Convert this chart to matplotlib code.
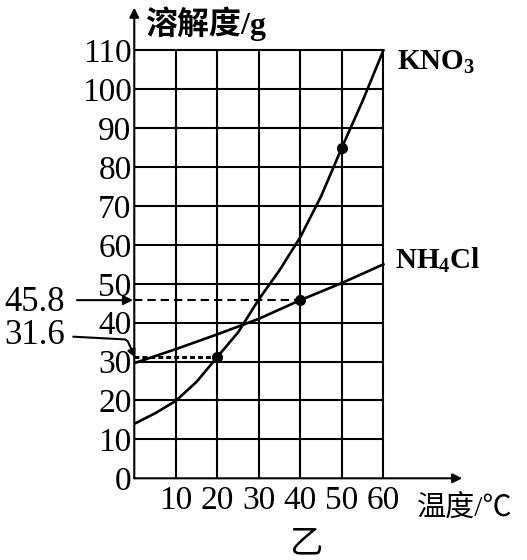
import matplotlib
matplotlib.use("Agg")
import matplotlib.pyplot as plt

plt.rcParams["font.family"] = ["Liberation Serif", "Noto Sans CJK SC", "DejaVu Sans"]
plt.rcParams["mathtext.fontset"] = "custom"
plt.rcParams["mathtext.rm"] = "Liberation Serif:bold"
plt.rcParams["mathtext.bf"] = "Liberation Serif:bold"

# solubility curves
kno3_temp = [0, 5, 10, 15, 20, 25, 30, 35, 40, 45, 50, 55, 60]
kno3_sol = [14.0, 16.7, 19.9, 24.8, 31.2, 37.5, 46.0, 53.5, 62.0, 72.5, 85.0, 97.0, 110.0]
nh4cl_temp = [0, 10, 20, 30, 40, 50, 60]
nh4cl_sol = [29.6, 33.2, 37.0, 41.0, 45.8, 50.2, 55.0]

# marked points
dot_temp = [20, 40, 50]
dot_sol = [31.2, 45.8, 85.0]

x_ticks = [10, 20, 30, 40, 50, 60]
y_ticks = [0, 10, 20, 30, 40, 50, 60, 70, 80, 90, 100, 110]

CJK = ["Liberation Serif", "Noto Sans CJK SC", "DejaVu Sans"]

fig = plt.figure(figsize=(5.27, 5.6), dpi=100)
ax = fig.add_axes([0.2548, 0.1459, 0.6223, 0.8405])
ax.set_xlim(0, 79)
ax.set_ylim(0, 121)
for s in ax.spines.values():
    s.set_visible(False)

# grid
ax.vlines(x_ticks, 0, 110, color="black", lw=1.5)
ax.hlines(y_ticks[1:], 0, 60, color="black", lw=1.5)

# axes with arrows
ax.annotate("", xy=(0, 121), xytext=(0, 0),
            arrowprops=dict(arrowstyle="-|>", lw=1.5, color="black",
                            mutation_scale=14, shrinkA=0, shrinkB=0))
ax.annotate("", xy=(79, 0), xytext=(0, 0),
            arrowprops=dict(arrowstyle="-|>", lw=1.5, color="black",
                            mutation_scale=14, shrinkA=0, shrinkB=0))

ax.plot(kno3_temp, kno3_sol, color="black", lw=1.9)
ax.plot(nh4cl_temp, nh4cl_sol, color="black", lw=1.9)

# guide lines
ax.plot([0, dot_temp[1]], [dot_sol[1], dot_sol[1]], color="black", lw=1.5,
        dashes=(4, 2.4))
ax.plot([0, dot_temp[0]], [dot_sol[0], dot_sol[0]], color="black", lw=2.2,
        dashes=(1.6, 1.0))
ax.plot(dot_temp, dot_sol, "o", color="black", ms=7)

ax.set_xticks(x_ticks)
ax.set_yticks(y_ticks)
ax.tick_params(length=0, labelsize=24)
ax.tick_params(axis="x", pad=5)
ax.tick_params(axis="y", pad=2)

ax.text(2.6, 116.8, "溶解度/g", fontsize=23, va="center", ha="left",
        family=CJK, fontweight="bold")
ax.text(63.3, 107, r"KNO$_3$", fontsize=21, fontweight="bold", va="center")
ax.text(62.8, 56.1, r"NH$_4$Cl", fontsize=21, fontweight="bold", va="center")
ax.text(68.1, -7.6, "温度/℃", fontsize=21, va="center", ha="left",
        family=CJK)
ax.text(41.6, -17.0, "乙", fontsize=24, va="center", ha="center",
        family=CJK)

# left callouts
ax.text(-31.3, 45.1, "45.8", fontsize=25, va="center", ha="left")
ax.annotate("", xy=(-0.3, 45.8), xytext=(-13.8, 45.8),
            arrowprops=dict(arrowstyle="-|>", lw=1.5, color="black",
                            mutation_scale=14, shrinkA=0, shrinkB=0),
            annotation_clip=False)
ax.text(-31.3, 36.6, "31.6", fontsize=25, va="center", ha="left")
ax.annotate("", xy=(0.2, 31.0), xytext=(-14.7, 36.4),
            arrowprops=dict(arrowstyle="-|>", lw=1.5, color="black",
                            mutation_scale=12, shrinkA=0, shrinkB=0,
                            connectionstyle="angle,angleA=-3,angleB=114,rad=3"),
            annotation_clip=False)

fig.savefig("out.png", dpi=100, facecolor="white")
